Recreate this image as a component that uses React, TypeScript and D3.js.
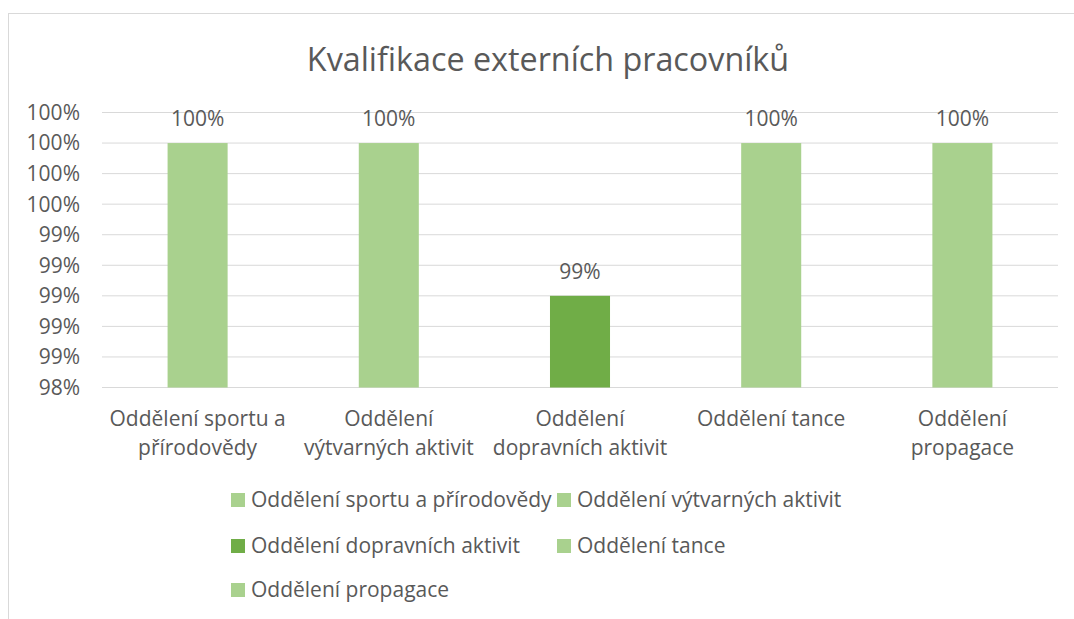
import React from 'react';
import * as d3 from 'd3';

const categories = [
	'Oddělení sportu a přírodovědy',
	'Oddělení výtvarných aktivit',
	'Oddělení dopravních aktivit',
	'Oddělení tance',
	'Oddělení propagace',
];
// how the axis labels wrap in the original
const categoryLines = [
	['Oddělení sportu a', 'přírodovědy'],
	['Oddělení', 'výtvarných aktivit'],
	['Oddělení', 'dopravních aktivit'],
	['Oddělení tance'],
	['Oddělení', 'propagace'],
];
const values = [1, 1, 0.99, 1, 1];
const barColors = ['#A9D18E', '#A9D18E', '#70AD47', '#A9D18E', '#A9D18E'];
const yTicks = [0.984, 0.986, 0.988, 0.99, 0.992, 0.994, 0.996, 0.998, 1.0, 1.002];
const title = 'Kvalifikace externích pracovníků';

const font = "'Open Sans', 'Noto Sans', sans-serif";
const textColor = '#595959';

export default function App() {
	const W = 1074;
	const H = 619;

	// plot area
	const left = 102;
	const right = 1058;
	const top = 112.5;
	const bottom = 387.5;
	const fs = 21;

	const xscale = d3.scaleBand().domain(categories).range([left, right]).padding(0);
	const yscale = d3.scaleLinear().domain([0.984, 1.002]).range([bottom, top]);
	const barW = xscale.bandwidth() * 0.314;
	const pct = (v: number) => `${Math.round(v * 100)}%`;

	// legend layout
	const legendCols = [231, 557];
	const legendRows = [500, 546, 590];

	return (
		<svg
			width={W}
			height={H}
			style={{ position: 'absolute', left: 0, top: 0, background: '#fff' }}
			fontFamily={font}
		>
			<rect x={8.5} y={13.5} width={W + 20} height={H + 20} fill="#fff" stroke="#d9d9d9" />

			<text x={548} y={71} textAnchor="middle" fontSize={32.3} fill={textColor}>
				{title}
			</text>

			{/* gridlines */}
			{yTicks.map((t) => (
				<line key={t} x1={left} x2={right} y1={yscale(t)} y2={yscale(t)} stroke="#d9d9d9" strokeWidth={1} />
			))}

			{/* y labels */}
			{yTicks.map((t) => (
				<text
					key={'l' + t}
					x={80}
					y={yscale(t)}
					dy="0.35em"
					textAnchor="end"
					fontSize={fs}
					fill={textColor}
				>
					{pct(t)}
				</text>
			))}

			{/* bars */}
			{categories.map((c, i) => {
				const cx = (xscale(c) as number) + xscale.bandwidth() / 2;
				return (
					<g key={c}>
						<rect
							x={cx - barW / 2}
							y={yscale(values[i])}
							width={barW}
							height={bottom - yscale(values[i])}
							fill={barColors[i]}
						/>
						<text
							x={cx}
							y={yscale(values[i]) - 24}
							dy="0.35em"
							textAnchor="middle"
							fontSize={fs}
							fill={textColor}
						>
							{pct(values[i])}
						</text>
						{categoryLines[i].map((ln, j) => (
							<text
								key={j}
								x={cx}
								y={419 + j * 29}
								dy="0.35em"
								textAnchor="middle"
								fontSize={fs}
								fill={textColor}
							>
								{ln}
							</text>
						))}
					</g>
				);
			})}

			{/* legend */}
			{categories.map((c, i) => {
				const lx = legendCols[i % 2];
				const ly = legendRows[Math.floor(i / 2)];
				return (
					<g key={'lg' + c}>
						<rect x={lx} y={ly - 7} width={14} height={14} fill={barColors[i]} />
						<text x={lx + 20} y={ly} dy="0.35em" fontSize={fs} fill={textColor}>
							{c}
						</text>
					</g>
				);
			})}
		</svg>
	);
}
